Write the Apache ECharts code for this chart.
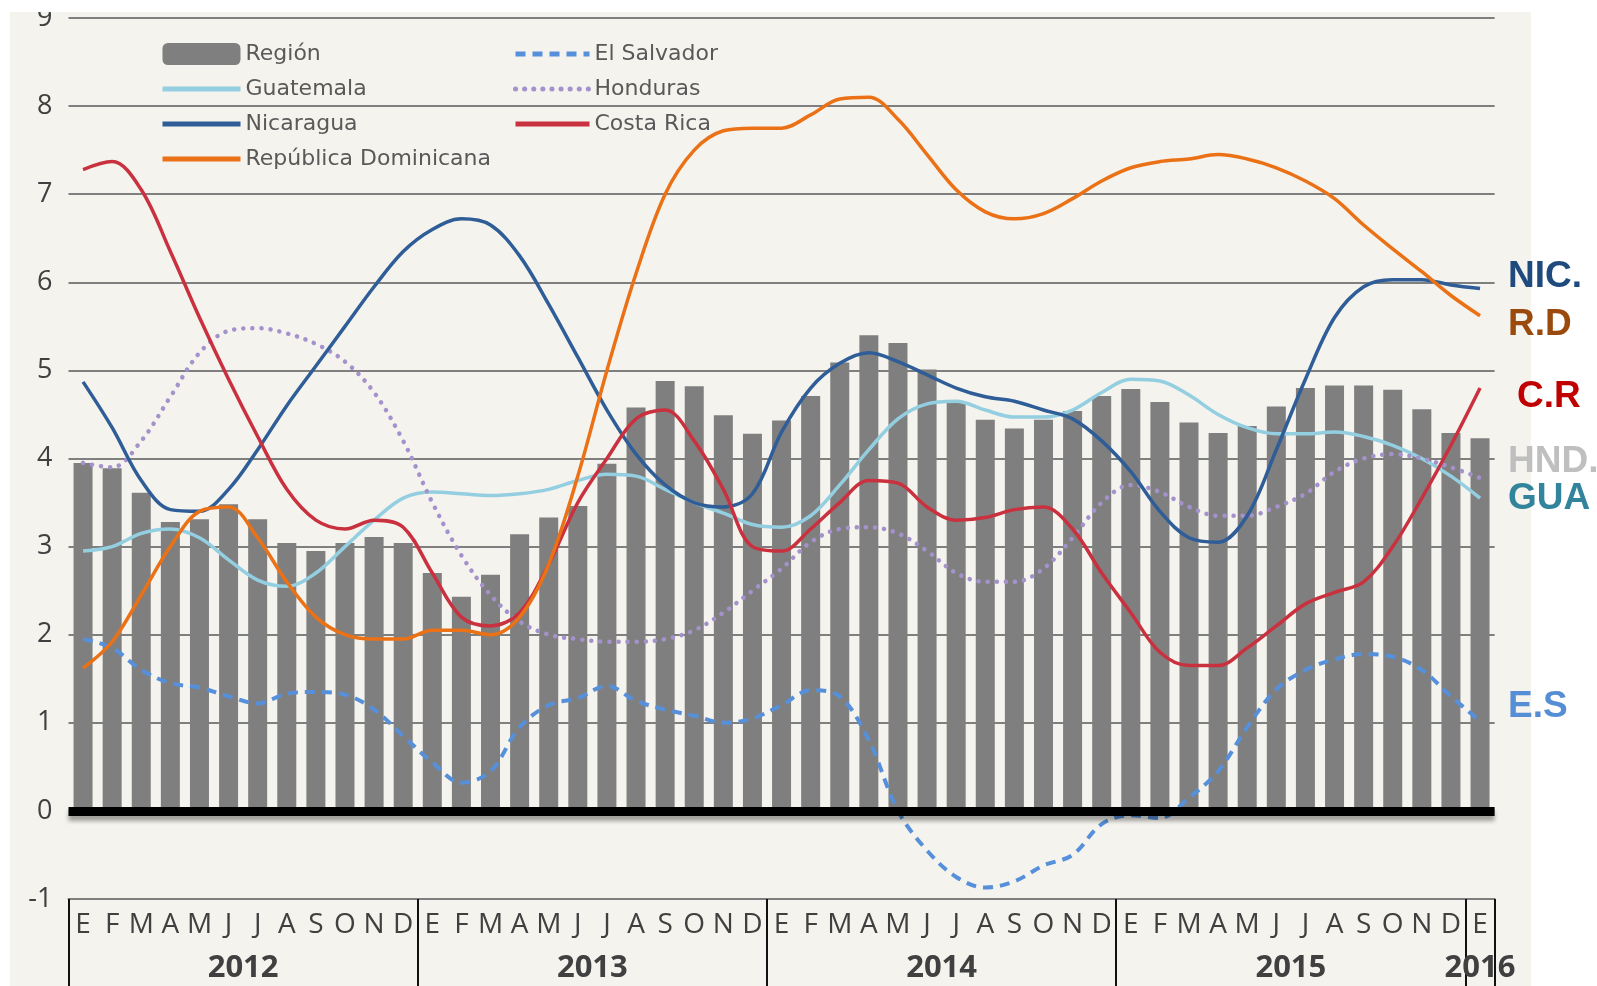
<!DOCTYPE html>
<html>
<head>
<meta charset="utf-8">
<title>Inflación Centroamérica</title>
<script src="https://cdn.jsdelivr.net/npm/echarts@6/dist/echarts.min.js"></script>
<style>
  html, body { margin: 0; padding: 0; background: #fff; }
  #main { width: 1597px; height: 986px; }
</style>
</head>
<body>
<div id="main"></div>
<script type="text/javascript">
// meses (E = enero) y años
var months = ['E', 'F', 'M', 'A', 'M', 'J', 'J', 'A', 'S', 'O', 'N', 'D'];
var years = ['2012', '2013', '2014', '2015', '2016'];
var monthsPerYear = [12, 12, 12, 12, 1];

var region = [3.95, 3.89, 3.61, 3.28, 3.31, 3.48, 3.31, 3.04, 2.95, 3.04, 3.11, 3.04,
  2.70, 2.43, 2.68, 3.14, 3.33, 3.46, 3.94, 4.58, 4.88, 4.82, 4.49, 4.28,
  4.43, 4.71, 5.09, 5.40, 5.31, 5.01, 4.64, 4.44, 4.34, 4.44, 4.54, 4.71,
  4.79, 4.64, 4.41, 4.29, 4.37, 4.59, 4.80, 4.83, 4.83, 4.78, 4.56, 4.29,
  4.23];
var salvador = [1.95, 1.85, 1.60, 1.45, 1.40, 1.30, 1.22, 1.33, 1.35, 1.32, 1.15, 0.85,
  0.55, 0.32, 0.45, 0.95, 1.20, 1.28, 1.42, 1.25, 1.15, 1.08, 1.00, 1.05,
  1.20, 1.37, 1.30, 0.80, 0.00, -0.45, -0.75, -0.87, -0.80, -0.62, -0.50, -0.15,
  -0.05, -0.08, 0.15, 0.45, 0.95, 1.38, 1.60, 1.72, 1.78, 1.75, 1.60, 1.30,
  1.02];
var guatemala = [2.95, 3.00, 3.15, 3.20, 3.10, 2.85, 2.62, 2.55, 2.70, 3.00, 3.30, 3.55,
  3.62, 3.60, 3.58, 3.60, 3.65, 3.75, 3.82, 3.80, 3.65, 3.50, 3.38, 3.25,
  3.22, 3.35, 3.70, 4.10, 4.45, 4.62, 4.65, 4.55, 4.47, 4.47, 4.55, 4.75,
  4.90, 4.88, 4.72, 4.50, 4.35, 4.28, 4.28, 4.30, 4.25, 4.15, 4.00, 3.80,
  3.55];
var honduras = [3.95, 3.90, 4.20, 4.70, 5.20, 5.45, 5.48, 5.42, 5.30, 5.10, 4.75, 4.20,
  3.50, 2.90, 2.45, 2.15, 2.00, 1.95, 1.92, 1.92, 1.95, 2.05, 2.25, 2.50,
  2.75, 3.05, 3.20, 3.22, 3.15, 2.95, 2.70, 2.60, 2.60, 2.75, 3.10, 3.50,
  3.70, 3.62, 3.45, 3.35, 3.35, 3.45, 3.60, 3.85, 4.00, 4.05, 4.00, 3.90,
  3.78];
var nicaragua = [4.87, 4.35, 3.75, 3.42, 3.40, 3.65, 4.10, 4.60, 5.05, 5.50, 5.95, 6.35,
  6.60, 6.72, 6.65, 6.30, 5.75, 5.15, 4.55, 4.05, 3.70, 3.50, 3.45, 3.60,
  4.30, 4.80, 5.08, 5.20, 5.10, 4.95, 4.80, 4.70, 4.65, 4.55, 4.45, 4.20,
  3.85, 3.40, 3.10, 3.05, 3.35, 4.10, 4.90, 5.60, 5.95, 6.03, 6.03, 5.97,
  5.93];
var costaRica = [7.28, 7.37, 7.05, 6.35, 5.60, 4.90, 4.25, 3.65, 3.30, 3.20, 3.30, 3.22,
  2.70, 2.20, 2.10, 2.25, 2.80, 3.50, 4.00, 4.45, 4.55, 4.20, 3.65, 3.00,
  2.95, 3.20, 3.50, 3.75, 3.72, 3.45, 3.30, 3.33, 3.42, 3.45, 3.20, 2.70,
  2.25, 1.80, 1.65, 1.65, 1.85, 2.10, 2.35, 2.48, 2.60, 3.00, 3.55, 4.15,
  4.80];
var dominicana = [1.62, 1.92, 2.45, 3.00, 3.40, 3.45, 3.10, 2.60, 2.20, 2.00, 1.95, 1.95,
  2.05, 2.05, 2.00, 2.20, 2.80, 3.80, 5.00, 6.10, 7.00, 7.50, 7.72, 7.75,
  7.75, 7.90, 8.08, 8.10, 7.85, 7.45, 7.05, 6.80, 6.72, 6.78, 6.95, 7.15,
  7.30, 7.37, 7.40, 7.45, 7.40, 7.30, 7.15, 6.95, 6.65, 6.38, 6.12, 5.85,
  5.62];

// etiquetas a la derecha
var endLabels = ['NIC.', 'R.D', 'C.R', 'HND.', 'GUA', 'E.S'];
var endColors = ['#1f4a7e', '#9a4a0c', '#c00000', '#bfbfbf', '#31849b', '#558ed5'];

// categorías mensuales
var categories = [];
var yearCenters = [];
var yearBounds = [-0.5];
var pos = 0;
for (var y = 0; y < years.length; y++) {
  for (var m = 0; m < monthsPerYear[y]; m++) categories.push(months[m]);
  yearCenters.push(monthsPerYear[y] > 1 ? pos + monthsPerYear[y] / 2 - 0.5 : pos);
  pos += monthsPerYear[y];
  yearBounds.push(pos - 0.5);
}

var myChart = echarts.init(document.getElementById('main'));

var lineSeries = function (name, data, color, type, width) {
  return {
    name: name,
    type: 'line',
    data: data,
    smooth: 0.35,
    showSymbol: false,
    symbol: 'none',
    lineStyle: { color: color, width: width || 3.5, type: type || 'solid', cap: type && type[0] < 1 ? 'round' : 'butt' },
    itemStyle: { color: color },
    z: 3
  };
};

var endY = [277, 325, 397, 462, 499, 707];
var endX = [1508, 1508, 1517, 1508, 1508, 1508];
var graphics = [
  { type: 'rect', z: -100, shape: { x: 10, y: 12, width: 1521, height: 974 }, style: { fill: '#f4f3ee' } },
  { type: 'rect', z: 100, shape: { x: 0, y: 0, width: 1597, height: 12 }, style: { fill: '#ffffff' } }
];
for (var i = 0; i < endLabels.length; i++) {
  graphics.push({
    type: 'text', z: 100, x: endX[i], y: endY[i],
    style: { text: endLabels[i], fill: endColors[i], font: 'bold 37px "Liberation Sans", Arial, sans-serif', verticalAlign: 'middle' }
  });
}

var legendText = { fontSize: 22, color: '#595959', fontFamily: 'DejaVu Sans' };
// en la leyenda solo la línea, sin el círculo
var noDot = { opacity: 0 };

var option = {
  backgroundColor: '#ffffff',
  animation: false,
  graphic: graphics,
  grid: { left: 68.5, right: 102.4, top: 18, bottom: 87, containLabel: false },
  legend: [
    {
      left: 155, top: 38, orient: 'vertical', itemWidth: 78, itemHeight: 22, itemGap: 13,
      textStyle: legendText,
      lineStyle: { width: 5 },
      data: [
        { name: 'Región', icon: 'roundRect' },
        { name: 'Guatemala', itemStyle: noDot },
        { name: 'Nicaragua', itemStyle: noDot },
        { name: 'República Dominicana', itemStyle: noDot }
      ]
    },
    {
      left: 508, top: 38, orient: 'vertical', itemWidth: 74, itemHeight: 22, itemGap: 13,
      textStyle: legendText,
      lineStyle: { width: 5 },
      itemStyle: noDot,
      data: ['El Salvador', 'Honduras', 'Costa Rica']
    }
  ],
  xAxis: [
    {
      type: 'category',
      data: categories,
      boundaryGap: true,
      axisLine: { onZero: false, lineStyle: { color: '#7f7f7f', width: 2 } },
      axisTick: { show: false },
      axisLabel: { interval: 0, margin: 12, fontSize: 28, color: '#404040', fontFamily: 'Open Sans' },
      splitLine: { show: false }
    },
    {
      type: 'value',
      min: -0.5,
      max: categories.length - 0.5,
      position: 'bottom',
      axisLine: { show: false, onZero: false },
      splitLine: { show: false },
      axisTick: {
        show: true, inside: false, length: 90, customValues: yearBounds,
        lineStyle: { color: '#111', width: 2 }
      },
      axisLabel: {
        show: true, margin: 54, customValues: yearCenters,
        fontSize: 31, fontWeight: 'bold', color: '#404040', fontFamily: 'Open Sans',
        formatter: function (v) {
          var k = yearCenters.indexOf(v);
          return k >= 0 ? years[k] : '';
        }
      }
    }
  ],
  yAxis: {
    type: 'value',
    min: -1,
    max: 9,
    interval: 1,
    axisLine: { show: false },
    axisTick: { show: false },
    axisLabel: { margin: 16, fontSize: 27, color: '#404040', fontFamily: 'Open Sans' },
    splitLine: { lineStyle: { color: '#7f7f7f', width: 2 } }
  },
  series: [
    {
      name: 'Región',
      type: 'bar',
      data: region,
      barWidth: 19,
      itemStyle: { color: '#7f7f7f' },
      z: 2,
      markLine: {
        silent: true,
        symbol: ['none', 'none'],
        label: { show: false },
        lineStyle: {
          color: '#000', width: 9, type: 'solid',
          shadowColor: 'rgba(0,0,0,0.35)', shadowBlur: 4, shadowOffsetY: 5
        },
        data: [{ yAxis: 0 }]
      }
    },
    lineSeries('El Salvador', salvador, '#5790da', [10, 7], 4),
    lineSeries('Guatemala', guatemala, '#93cfe0', 'solid', 3.5),
    lineSeries('Honduras', honduras, '#a592cc', [0.1, 9], 4.5),
    lineSeries('Nicaragua', nicaragua, '#2f5d97', 'solid', 3.5),
    lineSeries('Costa Rica', costaRica, '#c9313f', 'solid', 3.5),
    lineSeries('República Dominicana', dominicana, '#eb7116', 'solid', 3.5)
  ]
};

myChart.setOption(option);
</script>
</body>
</html>
